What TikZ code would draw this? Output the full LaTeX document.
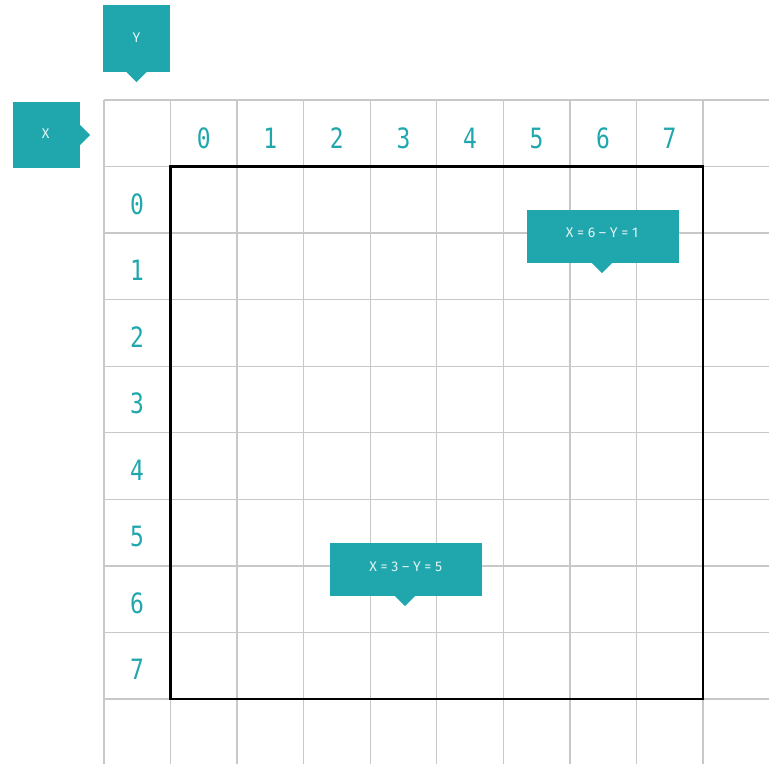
\documentclass[tikz,border=0pt]{standalone}
\usepackage{fontspec}
\setmainfont{Fira Sans}
\newfontfamily\digitfont{DejaVu Sans Mono}[FakeStretch=0.82]
\definecolor{teal1}{HTML}{20A7AD}
\definecolor{gridc}{HTML}{C8C8C8}
\definecolor{lbl}{HTML}{E2F4F4}
\begin{document}
\begin{tikzpicture}[x=1pt,y=-1pt,
  gridline/.style={draw=gridc,line width=1.3pt},
  digit/.style={text=teal1,font=\digitfont\fontsize{28}{28}\selectfont,anchor=base,inner sep=0pt},
  callout/.style={fill=teal1,draw=none,inner sep=0pt},
  ctext/.style={text=lbl,font=\fontsize{14}{14}\selectfont,anchor=base,inner sep=0pt}]
\useasboundingbox (0,0) rectangle (769,764);
% grid
\foreach \i in {0,...,9}{
  \draw[gridline] ({104+66.55*\i},100) -- ({104+66.55*\i},764);
  \draw[gridline] (104,{100+66.55*\i}) -- (769,{100+66.55*\i});
}
\draw[line width=2.5pt] (170.55,166.55) rectangle (703,699);
% labels
\foreach \i in {0,...,7}{
  \node[digit] (c\i) at ({203.8+66.55*\i},148) {\i};
  \node[digit] (r\i) at (137,{214+66.55*\i}) {\i};
}
% Y callout
\node[callout,minimum width=67pt,minimum height=67pt] (ybox) at (136.5,38.5) {};
\fill[teal1] ([xshift=-10pt]ybox.south) -- ([xshift=10pt]ybox.south) -- ([yshift=-10pt]ybox.south) -- cycle;
\node[ctext] (ylab) at (136.5,42.7) {Y};
% X callout
\node[callout,minimum width=67pt,minimum height=66pt] (xbox) at (46.5,135) {};
\fill[teal1] ([yshift=10pt]xbox.east) -- ([yshift=-10pt]xbox.east) -- ([xshift=10pt]xbox.east) -- cycle;
\node[ctext] (xlab) at (45.7,138) {X};
% point callouts
\node[callout,minimum width=152pt,minimum height=53pt] (p1) at (603,236.5) {};
\fill[teal1] ([xshift=-11pt]p1.south) -- ([xshift=9pt]p1.south) -- ([yshift=-10pt,xshift=-1pt]p1.south) -- cycle;
\node[ctext] (p1t) at (602,237.7) {X = 6 – Y = 1};
\node[callout,minimum width=152pt,minimum height=53pt] (p2) at (406,569.5) {};
\fill[teal1] ([xshift=-11pt]p2.south) -- ([xshift=9pt]p2.south) -- ([yshift=-10pt,xshift=-1pt]p2.south) -- cycle;
\node[ctext] (p2t) at (405.8,571) {X = 3 – Y = 5};
\end{tikzpicture}
\end{document}
